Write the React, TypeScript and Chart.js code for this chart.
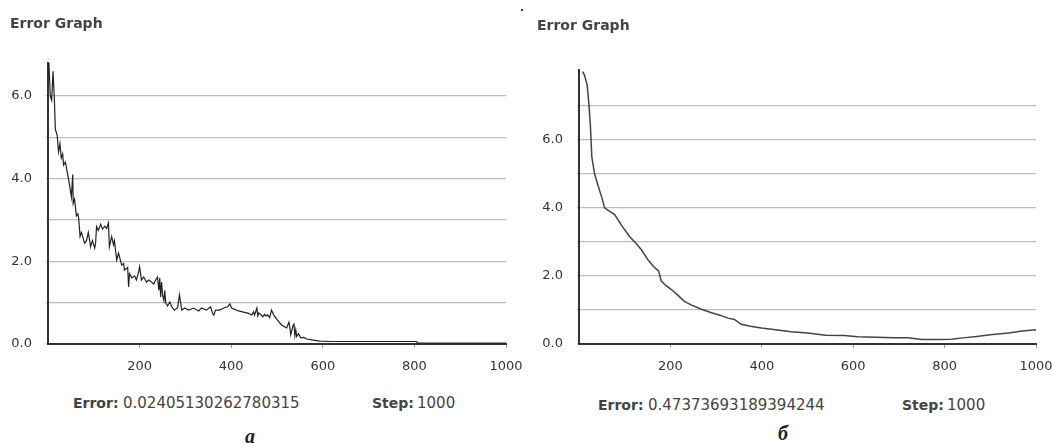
import React, { useEffect, useRef } from "react";
import { Chart, registerables } from "chart.js";

Chart.register(...registerables);

// ---- Data (left panel "a": noisy training error) ----
const stepsA = [2, 5, 8, 11, 14, 16, 20, 23, 26, 29, 32, 34, 38, 43, 47, 51, 54, 55, 58, 62, 65, 67, 70, 73, 77, 80, 84, 88, 93, 97, 102, 104, 106, 110, 115, 119, 124, 128, 132, 134, 139, 143, 145, 150, 154, 161, 165, 167, 174, 176, 178, 183, 189, 193, 198, 200, 204, 209, 215, 220, 226, 231, 235, 239, 242, 244, 246, 248, 250, 253, 255, 257, 261, 266, 270, 276, 283, 287, 292, 298, 307, 318, 329, 335, 346, 355, 359, 362, 366, 375, 384, 392, 397, 401, 405, 416, 427, 438, 445, 449, 451, 456, 458, 460, 464, 469, 473, 475, 480, 484, 488, 493, 501, 510, 521, 526, 528, 530, 535, 537, 539, 541, 543, 547, 552, 558, 565, 576, 593, 619, 700, 805, 806, 1000];
const errorsA = [6.8, 6.0, 5.9, 6.6, 5.9, 5.2, 5.05, 4.65, 4.85, 4.5, 4.6, 4.33, 4.4, 4.1, 3.85, 3.56, 4.1, 3.4, 3.5, 3.1, 3.15, 3.05, 2.6, 2.7, 2.55, 2.44, 2.5, 2.7, 2.35, 2.5, 2.32, 2.45, 2.84, 2.75, 2.9, 2.78, 2.85, 2.8, 2.93, 2.35, 2.6, 2.4, 2.5, 2.03, 2.2, 1.91, 1.95, 1.79, 1.85, 1.38, 1.7, 1.6, 1.65, 1.55, 1.75, 1.87, 1.55, 1.62, 1.5, 1.55, 1.5, 1.45, 1.55, 1.62, 1.3, 1.6, 1.14, 1.5, 1.2, 1.05, 1.3, 1.0, 0.92, 1.02, 0.9, 0.82, 0.88, 1.19, 0.82, 0.87, 0.82, 0.87, 0.8, 0.87, 0.82, 0.9, 0.75, 0.7, 0.82, 0.82, 0.87, 0.9, 0.97, 0.87, 0.85, 0.8, 0.77, 0.74, 0.7, 0.78, 0.7, 0.87, 0.68, 0.75, 0.72, 0.66, 0.72, 0.68, 0.7, 0.64, 0.82, 0.7, 0.58, 0.46, 0.39, 0.53, 0.4, 0.22, 0.45, 0.5, 0.2, 0.34, 0.18, 0.25, 0.15, 0.16, 0.12, 0.1, 0.07, 0.06, 0.06, 0.06, 0.025, 0.024];

// ---- Data (right panel "б": smooth training error) ----
const stepsB = [8, 12, 18, 22, 25, 28, 34, 43, 50, 56, 67, 78, 95, 111, 125, 137, 152, 165, 174, 180, 190, 202, 215, 230, 245, 268, 290, 310, 326, 340, 355, 375, 399, 430, 464, 500, 540, 580, 610, 650, 690, 720, 750, 790, 815, 840, 870, 900, 940, 970, 1000];
const errorsB = [8.0, 7.9, 7.6, 7.0, 6.4, 5.5, 5.0, 4.6, 4.3, 4.0, 3.9, 3.8, 3.45, 3.15, 2.95, 2.76, 2.45, 2.25, 2.15, 1.85, 1.72, 1.6, 1.45, 1.26, 1.15, 1.02, 0.92, 0.84, 0.76, 0.72, 0.58, 0.52, 0.47, 0.42, 0.36, 0.32, 0.26, 0.25, 0.21, 0.2, 0.18, 0.18, 0.13, 0.13, 0.14, 0.18, 0.22, 0.27, 0.32, 0.38, 0.42];

// ---- Axis ticks ----
const xTicks = [200, 400, 600, 800, 1000];
const yTicksA = [0, 1, 2, 3, 4, 5, 6];
const yTicksB = [0, 1, 2, 3, 4, 5, 6, 7];
const yLabeled = [0, 2, 4, 6];

const titleText = "Error Graph";
const errorValueA = "0.02405130262780315";
const errorValueB = "0.47373693189394244";
const stepValue = "1000";

type PanelCfg = {
  steps: number[];
  errors: number[];
  yTicks: number[];
  yMax: number;
  width: number;
  height: number;
  padTop: number;
  padRight: number;
  yWidth: number;
  lineColor: string;
  lineWidth: number;
};

function ErrorChart(p: PanelCfg) {
  const ref = useRef<HTMLCanvasElement | null>(null);
  useEffect(() => {
    if (!ref.current) return;
    const tickFont = { family: "DejaVu Sans", size: 13 };
    const chart = new Chart(ref.current, {
      type: "line",
      data: {
        datasets: [
          {
            data: p.steps.map((s, i) => ({ x: s, y: p.errors[i] })),
            borderColor: p.lineColor,
            borderWidth: p.lineWidth,
            pointRadius: 0,
            tension: 0,
            fill: false,
          },
        ],
      },
      options: {
        animation: false,
        responsive: false,
        devicePixelRatio: 1,
        layout: { padding: { left: 0, top: p.padTop, right: p.padRight, bottom: 0 } },
        plugins: { legend: { display: false }, tooltip: { enabled: false }, title: { display: false } },
        scales: {
          x: {
            type: "linear",
            min: 0,
            max: 1000,
            afterBuildTicks: (s: any) => {
              s.ticks = xTicks.map((v) => ({ value: v }));
            },
            afterFit: (s: any) => {
              s.height = 36;
              s.paddingLeft = 0;
              s.paddingRight = 0;
            },
            ticks: {
              color: "#333",
              font: tickFont,
              padding: 11,
              maxRotation: 0,
              autoSkip: false,
              callback: (v: any) => String(v),
            },
            grid: { drawOnChartArea: false, drawTicks: true, tickLength: 4, color: "#999" },
            border: { color: "#333", width: 2 },
          },
          y: {
            type: "linear",
            min: 0,
            max: p.yMax,
            afterBuildTicks: (s: any) => {
              s.ticks = p.yTicks.map((v) => ({ value: v }));
            },
            afterFit: (s: any) => {
              s.width = p.yWidth;
              s.paddingTop = 0;
              s.paddingBottom = 0;
            },
            ticks: {
              color: "#333",
              font: tickFont,
              padding: 14,
              callback: (v: any) => (yLabeled.includes(Number(v)) ? Number(v).toFixed(1) : ""),
            },
            grid: { color: "#bdbdbd", lineWidth: 1.2, drawTicks: true, tickLength: 2 },
            border: { color: "#333", width: 2 },
          },
        },
      },
    } as any);
    return () => chart.destroy();
  }, []);
  return <canvas ref={ref} width={p.width} height={p.height} style={{ display: "block", width: p.width, height: p.height }} />;
}

const abs = (left: number, top: number, extra: React.CSSProperties = {}): React.CSSProperties => ({
  position: "absolute",
  left,
  top,
  whiteSpace: "nowrap",
  lineHeight: 1,
  color: "#444",
  fontFamily: "DejaVu Sans",
  ...extra,
});

const bold: React.CSSProperties = { fontWeight: "bold", fontSize: 14 };
const reg: React.CSSProperties = { fontSize: 15 };

export default function App() {
  return (
    <div style={{ position: "absolute", left: 0, top: 0, width: 1052, height: 443, background: "#fff", overflow: "hidden" }}>
      <div style={{ position: "absolute", left: 0, top: 0 }}>
        <ErrorChart
          steps={stepsA}
          errors={errorsA}
          yTicks={yTicksA}
          yMax={6.8}
          width={545}
          height={380}
          padTop={63}
          padRight={39}
          yWidth={48}
          lineColor="#222"
          lineWidth={1.2}
        />
      </div>
      <div style={{ position: "absolute", left: 520, top: 0 }}>
        <ErrorChart
          steps={stepsB}
          errors={errorsB}
          yTicks={yTicksB}
          yMax={8.05}
          width={532}
          height={380}
          padTop={70}
          padRight={16}
          yWidth={59}
          lineColor="#444"
          lineWidth={1.5}
        />
      </div>

      <div style={abs(10, 16, { fontSize: 14, fontWeight: "bold" })}>{titleText}</div>
      <div style={abs(537, 18, { fontSize: 14, fontWeight: "bold" })}>{titleText}</div>
      <div style={abs(521, 9, { width: 2, height: 2, background: "#333" })} />

      <div style={abs(73, 396, bold)}>Error:</div>
      <div style={abs(123, 396, reg)}>{errorValueA}</div>
      <div style={abs(372, 396, bold)}>Step:</div>
      <div style={abs(417, 396, reg)}>{stepValue}</div>

      <div style={abs(598, 398, bold)}>Error:</div>
      <div style={abs(648, 398, reg)}>{errorValueB}</div>
      <div style={abs(902, 398, bold)}>Step:</div>
      <div style={abs(947, 398, reg)}>{stepValue}</div>

      <div style={abs(245, 426, { fontSize: 20, fontWeight: "bold", fontStyle: "italic", fontFamily: "Liberation Serif", color: "#222" })}>a</div>
      <div style={abs(778, 423, { fontSize: 20, fontWeight: "bold", fontStyle: "italic", fontFamily: "Liberation Serif", color: "#222" })}>б</div>
    </div>
  );
}
